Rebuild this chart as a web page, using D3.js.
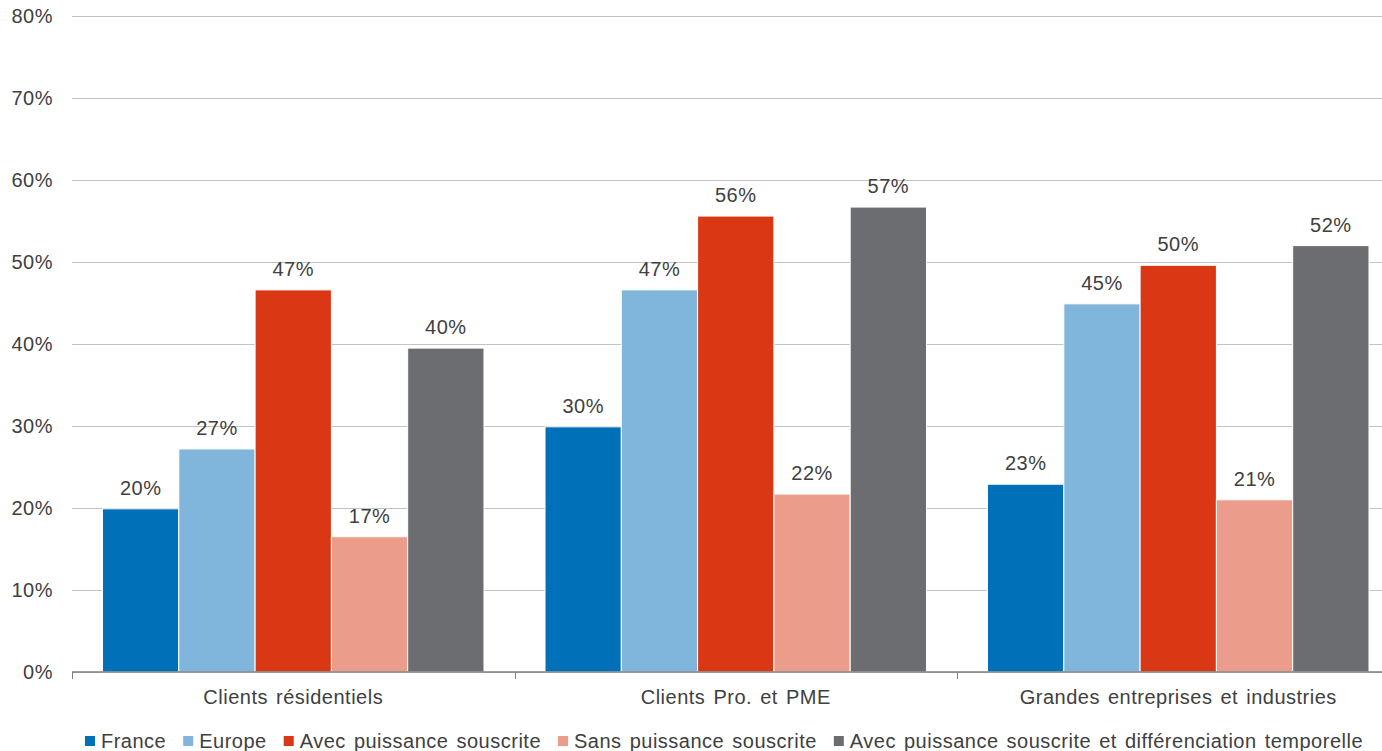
<!DOCTYPE html>
<html>
<head>
<meta charset="utf-8">
<script src="https://cdn.jsdelivr.net/npm/d3@7"></script>
<style>
  html, body { margin: 0; padding: 0; background: #fff; overflow: hidden; }
  svg { display: block; font-family: 'Liberation Sans', Arial, sans-serif; }
  svg text { letter-spacing: 0.5px; word-spacing: 2px; }
</style>
</head>
<body>
<svg id="chart"></svg>
<script>
const categories = ['Clients résidentiels', 'Clients Pro. et PME', 'Grandes entreprises et industries'];
const seriesNames = [
  'France',
  'Europe',
  'Avec puissance souscrite',
  'Sans puissance souscrite',
  'Avec puissance souscrite et différenciation temporelle'
];
const france = [19.9, 29.9, 22.9];
const europe = [27.2, 46.6, 44.9];
const avecPuissance = [46.6, 55.6, 49.6];
const sansPuissance = [16.5, 21.7, 21.0];
const avecDiff = [39.5, 56.7, 52.0];
const yTicks = [0, 10, 20, 30, 40, 50, 60, 70, 80];
const colors = ['#0070b9', '#80b6dc', '#da3814', '#ec9c8a', '#6b6d71'];

const seriesValues = [france, europe, avecPuissance, sansPuissance, avecDiff];
const data = categories.map((c, i) => ({
  category: c,
  values: seriesNames.map((s, j) => ({ series: s, value: seriesValues[j][i] }))
}));

const width = 1382;
const height = 751;
const marginLeft = 72;
const plotRight = 1399.5; // last group runs off the right edge
const yTop = 16;
const yBottom = 672;
const textColor = '#404040';

const svg = d3.select('#chart')
  .attr('width', width)
  .attr('height', height)
  .attr('viewBox', [0, 0, width, height]);

const x0 = d3.scaleBand()
  .domain(categories)
  .range([marginLeft, plotRight])
  .padding(0);

const x1 = d3.scaleBand()
  .domain(seriesNames)
  .range([0, x0.bandwidth()])
  .paddingInner(0)
  .paddingOuter(0.4);

const y = d3.scaleLinear()
  .domain([0, 80])
  .range([yBottom, yTop]);

const color = d3.scaleOrdinal().domain(seriesNames).range(colors);

// gridlines + y labels
const gy = svg.append('g')
  .attr('transform', `translate(${marginLeft},0)`)
  .call(d3.axisLeft(y).tickValues(yTicks).tickFormat((d) => d + '%').tickSize(-(width - marginLeft)).tickPadding(19))
  .call((g) => g.select('.domain').remove());
gy.selectAll('.tick line').attr('stroke', '#c3c3c3').attr('stroke-width', 1);
gy.selectAll('.tick text')
  .attr('fill', textColor)
  .attr('font-size', 20)
  .attr('dy', '0.3em')
  .attr('font-family', "'Liberation Sans', Arial, sans-serif");

// bars
const groups = svg.append('g')
  .selectAll('g')
  .data(data)
  .join('g')
  .attr('transform', (d) => `translate(${x0(d.category)},0)`);

groups.selectAll('rect')
  .data((d) => d.values)
  .join('rect')
  .attr('x', (d) => x1(d.series))
  .attr('y', (d) => y(d.value))
  .attr('width', x1.bandwidth())
  .attr('height', (d) => y(0) - y(d.value))
  .attr('fill', (d) => color(d.series))
  .attr('stroke', '#fff')
  .attr('stroke-width', 1);

groups.selectAll('text')
  .data((d) => d.values)
  .join('text')
  .attr('x', (d) => x1(d.series) + x1.bandwidth() / 2)
  .attr('y', (d) => y(d.value) - 14)
  .attr('text-anchor', 'middle')
  .attr('font-size', 20)
  .attr('fill', textColor)
  .text((d) => Math.round(d.value) + '%');

// x axis
const gx = svg.append('g')
  .attr('transform', `translate(0,${yBottom})`);
gx.append('line')
  .attr('x1', marginLeft).attr('x2', width)
  .attr('stroke', '#7f7f7f').attr('stroke-width', 1.3);
const boundaries = categories.map((c) => x0(c)).concat([plotRight]);
gx.selectAll('.sep')
  .data(boundaries)
  .join('line')
  .attr('class', 'sep')
  .attr('x1', (d) => Math.round(d) + 0.5).attr('x2', (d) => Math.round(d) + 0.5)
  .attr('y1', 0).attr('y2', 7)
  .attr('stroke', '#7f7f7f');
gx.selectAll('.cat')
  .data(categories)
  .join('text')
  .attr('class', 'cat')
  .attr('x', (d) => x0(d) + x0.bandwidth() / 2)
  .attr('y', 32)
  .attr('text-anchor', 'middle')
  .attr('font-size', 20)
  .attr('fill', textColor)
  .text((d) => d);

// legend
const legend = svg.append('g').attr('transform', `translate(0,741)`);
const items = legend.selectAll('g')
  .data(seriesNames)
  .join('g');
items.append('rect')
  .attr('x', 0).attr('y', -5)
  .attr('width', 10).attr('height', 10)
  .attr('fill', (d) => color(d));
items.append('text')
  .attr('x', 16).attr('y', 7)
  .attr('font-size', 20)
  .attr('fill', textColor)
  .text((d) => d);

const gap = 17;
let offset = 0;
const positions = [];
items.each(function () {
  const w = 16 + this.querySelector('text').getComputedTextLength();
  positions.push(offset);
  offset += w + gap;
});
const totalWidth = offset - gap;
const startX = 724 - totalWidth / 2;
items.attr('transform', (d, i) => `translate(${startX + positions[i]},0)`);
</script>
</body>
</html>
